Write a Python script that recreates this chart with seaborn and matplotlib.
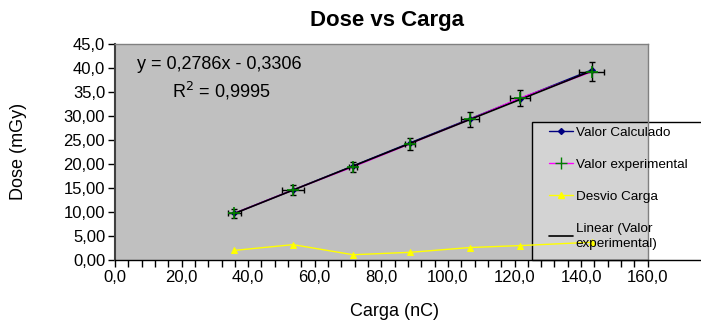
import numpy as np
import pandas as pd
import seaborn as sns
import matplotlib.pyplot as plt
from matplotlib.lines import Line2D
from matplotlib.patches import Rectangle
from matplotlib.ticker import MultipleLocator

# valores
carga = [35.8, 53.5, 71.5, 88.6, 106.6, 121.6, 143.2]
dose_exp = [9.7, 14.6, 19.4, 24.2, 29.3, 33.7, 39.2]
dose_calc = [9.7, 14.6, 19.6, 24.4, 29.4, 33.6, 39.6]
erro_dose = [0.9, 1.0, 1.1, 1.3, 1.5, 1.7, 2.0]
desvio_carga = [2.0, 3.2, 1.1, 1.6, 2.6, 3.0, 3.7]

yticks = [0, 5, 10, 15, 20, 25, 30, 35, 40, 45]
ytick_labels = ['0,00', '5,00', '10,00', '15,00', '20,00', '25,00', '30,00', '35,0', '40,0', '45,0']
xticks = [0, 20, 40, 60, 80, 100, 120, 140, 160]
xtick_labels = ['0,0', '20,0', '40,0', '60,0', '80,0', '100,0', '120,0', '140,0', '160,0']

df = pd.DataFrame({'Carga': carga, 'Exp': dose_exp, 'Calc': dose_calc,
                   'ErroDose': erro_dose, 'Desvio': desvio_carga})

sns.set_style('white')
plt.rcParams['font.family'] = ['Liberation Sans', 'DejaVu Sans']
plt.rcParams['text.color'] = 'black'
plt.rcParams['xtick.color'] = 'black'
plt.rcParams['ytick.color'] = 'black'

fig = plt.figure(figsize=(7.01, 3.23), dpi=100)
ax = fig.add_axes([0.164, 0.195, 0.760, 0.669])
ax.set_facecolor('#c0c0c0')

# Valor Calculado
sns.lineplot(data=df, x='Carga', y='Calc', ax=ax, color='#000080', lw=1,
             marker='D', markersize=3, markeredgecolor='#000080', zorder=2)
# Valor experimental
sns.lineplot(data=df, x='Carga', y='Exp', ax=ax, color='#ff00ff', lw=1, zorder=3)
# Linear (Valor experimental)
sns.regplot(data=df, x='Carga', y='Exp', ax=ax, scatter=False, ci=None, truncate=True,
            color='black', line_kws={'lw': 1.2, 'zorder': 4})
ax.errorbar(df['Carga'], df['Exp'], xerr=df['Desvio'], yerr=df['ErroDose'], fmt='none',
            ecolor='black', elinewidth=1, capsize=2.5, capthick=1, zorder=5)
ax.plot(df['Carga'], df['Exp'], linestyle='none', marker='+', markersize=9,
        markeredgewidth=1.2, color='#008000', zorder=6)
# Desvio Carga
sns.lineplot(data=df, x='Carga', y='Desvio', ax=ax, color='#ffff00', lw=1,
             marker='^', markersize=5, markeredgecolor='#ffff00', zorder=2)

ax.set_xlim(0, 160)
ax.set_ylim(0, 45)
ax.set_xticks(xticks)
ax.set_xticklabels(xtick_labels, fontsize=12)
ax.set_yticks(yticks)
ax.set_yticklabels(ytick_labels, fontsize=12)
ax.xaxis.set_minor_locator(MultipleLocator(4))
ax.tick_params(axis='both', which='major', direction='out', length=5, width=1, color='black',
               bottom=True, left=True, pad=2)
ax.tick_params(axis='x', which='minor', direction='out', length=5, width=1, color='black', bottom=True)

for s in ['top', 'right']:
    ax.spines[s].set_color('#808080')
    ax.spines[s].set_linewidth(1)
ax.spines['left'].set_color('#404040')
ax.spines['left'].set_linewidth(1.5)
ax.spines['bottom'].set_color('black')
ax.spines['bottom'].set_linewidth(1)

ax.set_xlabel('')
ax.set_ylabel('')
fig.text(0.563, 0.037, 'Carga (nC)', fontsize=13, ha='center', va='center')
fig.text(0.026, 0.53, 'Dose (mGy)', fontsize=13, ha='center', va='center', rotation=90)
fig.text(0.552, 0.938, 'Dose vs Carga', fontsize=16, fontweight='bold', ha='center', va='center')

ax.text(0.041, 0.903, 'y = 0,2786x - 0,3306', transform=ax.transAxes, fontsize=13, va='center')
ax.text(0.107, 0.782, 'R$^2$ = 0,9995', transform=ax.transAxes, fontsize=13, va='center')

# caixa da legenda (atras das linhas, como no original)
box = Rectangle((532 / 701, 1 - 260 / 323), 0.25, 138 / 323, transform=fig.transFigure,
                facecolor=(1, 1, 1, 0.3), edgecolor='black', lw=1, zorder=1, clip_on=False)
ax.add_patch(box)

handles = [
    Line2D([], [], color='#000080', lw=1, marker='D', markersize=3),
    Line2D([], [], color='#ff00ff', lw=1, marker='+', markersize=9, markeredgecolor='#008000'),
    Line2D([], [], color='#ffff00', lw=1, marker='^', markersize=5),
    Line2D([], [], color='black', lw=1.2),
]
labels = ['Valor Calculado', 'Valor experimental', 'Desvio Carga', 'Linear (Valor\nexperimental)']
leg = ax.legend(handles, labels, loc='upper left', bbox_to_anchor=(546 / 701, 1 - 124 / 323),
                bbox_transform=fig.transFigure, borderaxespad=0, fontsize=9.7,
                labelspacing=1.45, handlelength=1.8, handletextpad=0.2, borderpad=0.2,
                frameon=False)
leg.set_zorder(10)
for t in leg.get_texts():
    t.set_linespacing(1.35)

fig.savefig('out.png', dpi=100)
